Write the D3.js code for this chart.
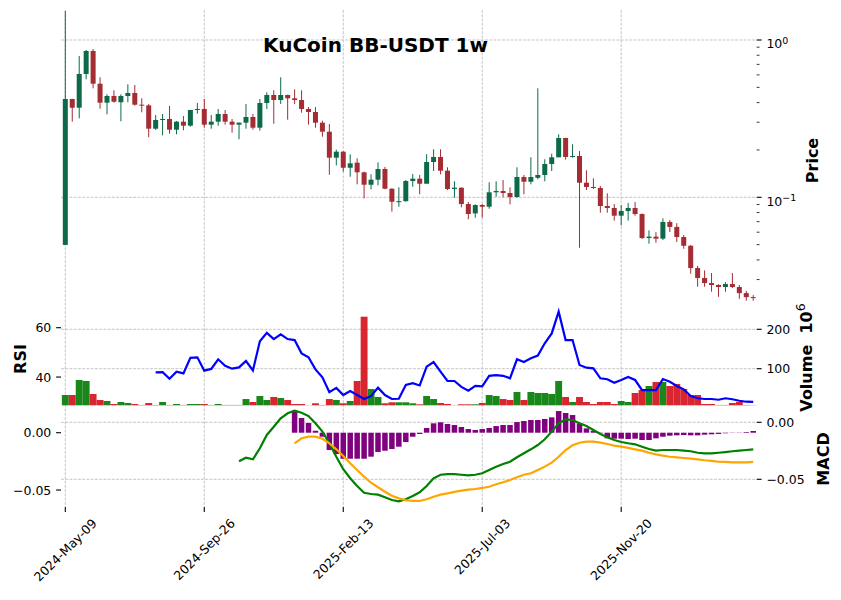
<!DOCTYPE html>
<html>
<head>
<meta charset="utf-8">
<script src="https://cdnjs.cloudflare.com/ajax/libs/d3/7.8.5/d3.min.js"></script>
<style>
  body { margin: 0; background: #fff; }
  svg { font-family: "DejaVu Sans", sans-serif; }
  .grid { stroke: #b8b8b8; stroke-width: 0.8; stroke-dasharray: 2.96,1.28; fill: none; }
  .tick { stroke: #000; }
  .lbl { font-size: 12.5px; fill: #000; }
  .ylab { font-size: 16px; font-weight: bold; fill: #000; }
</style>
</head>
<body>
<svg id="chart" width="841" height="600"></svg>
<script>
// weekly candles, KuCoin BB-USDT, starting 2024-05-09
var open = [.0498,.4217,.3711,.6080,.8513,.5274,.3994,.4406,.4020,.4406,
  .4604,.3879,.3840,.2730,.3101,.3147,.2690,.3025,.2853,.3589,
  .3643,.2895,.3025,.3385,.3025,.2895,.2981,.3240,.2770,.3977,
  .4471,.4155,.4471,.4259,.4155,.3643,.3486,.2981,.2613,.1786,
  .1950,.1541,.1660,.1442,.1202,.1294,.1513,.1134,.0937,.0945,
  .1269,.1313,.1220,.1676,.1805,.1476,.1129,.1151,.0906,.0790,
  .0893,.0871,.1076,.1097,.1065,.1004,.1346,.1256,.1330,.1386,
  .1628,.1796,.2382,.1805,.1831,.1238,.1163,.1146,.0880,.0855,
  .0764,.0818,.0855,.0783,.0551,.0562,.0546,.0697,.0648,.0559,
  .0492,.0355,.0307,.0285,.0277,.0269,.0281,.0269,.0246,.0232];
var high = [1.529,.4230,.7913,.8638,.8766,.5793,.4517,.4789,.4517,.5228,
  .5175,.4259,.3920,.3336,.3385,.3806,.3056,.3288,.3600,.3977,
  .4217,.3336,.3643,.3589,.3147,.2990,.3919,.3385,.4217,.4651,
  .4789,.5793,.4490,.4859,.4789,.3751,.3751,.3069,.2925,.2007,
  .1960,.1877,.1770,.1454,.1400,.1669,.1558,.1140,.1157,.1288,
  .1406,.1386,.1877,.2019,.2019,.1551,.1264,.1155,.0933,.0902,
  .0906,.1245,.1264,.1288,.1157,.1551,.1386,.1796,.4930,.1745,
  .1894,.2516,.2390,.2173,.1970,.1484,.1320,.1180,.1060,.0906,
  .0893,.0920,.0933,.0790,.0617,.0600,.0735,.0718,.0684,.0576,
  .0497,.0366,.0343,.0330,.0280,.0289,.0330,.0277,.0254,.0239];
var low = [.0498,.3025,.3178,.5626,.4930,.3658,.3370,.3994,.3042,.4017,
  .3823,.3470,.2407,.2679,.2478,.2538,.2516,.2667,.2811,.3400,
  .2770,.2730,.2853,.2895,.2575,.2337,.2730,.2690,.2652,.3643,
  .2938,.3919,.3114,.3919,.3450,.2895,.2770,.2428,.1392,.1597,
  .1454,.1352,.1209,.0985,.1124,.1192,.1124,.0810,.0871,.0937,
  .1167,.1045,.1220,.1469,.1400,.1113,.0994,.0863,.0725,.0742,
  .0742,.0846,.1008,.1000,.0902,.0994,.1045,.1209,.1301,.1264,
  .1469,.1796,.1734,.1786,.0478,.1113,.1129,.0798,.0798,.0711,
  .0664,.0711,.0764,.0543,.0507,.0514,.0535,.0602,.0520,.0471,
  .0327,.0270,.0270,.0251,.0233,.0251,.0265,.0226,.0220,.0220];
var close = [.4217,.3711,.6080,.8513,.5274,.3994,.4406,.4053,.4406,.4604,
  .3879,.3840,.2730,.3101,.3147,.2690,.3025,.2853,.3589,.3643,
  .2895,.3025,.3385,.3025,.2895,.2981,.3240,.2770,.3977,.4471,
  .4155,.4471,.4259,.4155,.3643,.3486,.2981,.2613,.1786,.1950,
  .1541,.1644,.1442,.1202,.1294,.1513,.1134,.0937,.0945,.1269,
  .1313,.1220,.1676,.1805,.1476,.1129,.1151,.0906,.0783,.0893,
  .0871,.1076,.1097,.1065,.1004,.1346,.1256,.1346,.1386,.1628,
  .1796,.2382,.1805,.1831,.1238,.1163,.1146,.0880,.0855,.0764,
  .0818,.0855,.0783,.0551,.0562,.0546,.0697,.0648,.0559,.0492,
  .0355,.0307,.0285,.0277,.0269,.0281,.0269,.0246,.0232,.0229];
// volume in millions
var volume = [33.2,33.2,71.3,68.8,35.8,20.6,18,10.4,15.5,12.9,
  10.4,8,12.9,8,15.5,8,10.4,8,10.4,10.4,
  10.4,8,10.4,8,8,8,23,15.5,30.7,20.6,
  28.2,25.6,20.6,10.4,10.4,7.5,12.2,8,23,20.6,
  12.2,18,68.8,232,48.5,28.2,12.2,14.7,14.7,14.7,
  12.2,9.6,30.7,23,12.9,10.4,7.5,9.6,9.6,9.6,
  12.9,33.2,30.7,23,20.6,40.9,20.6,40.9,38.3,38.3,
  35.8,68.8,28.2,15.5,28.2,15.5,10.4,15.5,15.5,10.4,
  18,15.5,38.3,45.9,56.1,66.2,66.2,56.1,61.2,48.5,
  33.2,33.2,10.4,10.4,8,8,12.9,15.5,8,7.5];

var rsiStart = 13;
var rsi = [41.9,42.0,39.3,42.2,41.5,47.8,48.0,42.6,43.3,47.2,
  44.6,43.4,43.9,46.5,42.7,54.5,57.9,55.4,57.3,55.4,
  55.0,49.6,48.0,43.1,39.9,33.9,35.6,32.7,34.3,32.7,
  31.1,32.3,35.7,32.7,31.1,31.2,36.8,37.5,36.6,44.2,
  46.1,42.2,38.4,38.4,36.0,34.5,36.4,36.2,40.5,40.8,
  40.5,39.5,47.2,46.1,47.6,48.7,53.7,57.7,66.5,55.0,
  55.0,44.9,43.8,43.5,39.5,39.1,37.7,38.8,40.0,38.8,
  34.7,34.7,34.7,39.2,38.1,36.4,35.0,32.3,31.4,31.1,
  31.1,30.8,31.4,31.0,30.4,30.0,29.9];

var macdStart = 25;
var macd = [-0.0342,-0.0311,-0.0325,-0.0228,-0.0111,-0.0039,0.0035,0.0079,0.0102,0.0084,
  0.0055,-0.0009,-0.0082,-0.0184,-0.0302,-0.0412,-0.0491,-0.0559,-0.0618,-0.0629,
  -0.0635,-0.0658,-0.0682,-0.0693,-0.0675,-0.0646,-0.0614,-0.0559,-0.0491,-0.0460,
  -0.0454,-0.0454,-0.0460,-0.0465,-0.0460,-0.0447,-0.0418,-0.0389,-0.0366,-0.0346,
  -0.0307,-0.0272,-0.0237,-0.0199,-0.0149,-0.0082,-0.0009,0.0026,0.0020,-0.0009,
  -0.0032,-0.0068,-0.0103,-0.0132,-0.0155,-0.0173,-0.0184,-0.0193,-0.0214,-0.0234,
  -0.0249,-0.0243,-0.0243,-0.0243,-0.0249,-0.0254,-0.0267,-0.0272,-0.0272,-0.0267,
  -0.0261,-0.0254,-0.0249,-0.0243,-0.0237];

var signalStart = 33;
var signal = [-0.0184,-0.0140,-0.0126,-0.0126,-0.0144,-0.0184,-0.0237,-0.0296,-0.0360,-0.0418,
  -0.0477,-0.0530,-0.0570,-0.0609,-0.0644,-0.0667,-0.0684,-0.0690,-0.0690,-0.0675,
  -0.0653,-0.0635,-0.0623,-0.0611,-0.0600,-0.0591,-0.0585,-0.0576,-0.0565,-0.0544,
  -0.0526,-0.0506,-0.0482,-0.0460,-0.0447,-0.0418,-0.0389,-0.0354,-0.0302,-0.0243,
  -0.0202,-0.0179,-0.0170,-0.0170,-0.0179,-0.0190,-0.0205,-0.0214,-0.0225,-0.0237,
  -0.0249,-0.0267,-0.0281,-0.0293,-0.0302,-0.0307,-0.0313,-0.0319,-0.0325,-0.0333,
  -0.0339,-0.0346,-0.0348,-0.0351,-0.0351,-0.0351,-0.0348];

var histStart = 33;
var hist = [0.0192,0.0128,0.0085,0.0017,-0.0035,-0.0151,-0.0186,-0.0227,-0.0227,-0.0227,
  -0.0227,-0.0209,-0.0168,-0.0157,-0.0142,-0.0122,-0.0081,-0.0035,-0.0011,0.0041,
  0.0082,0.0091,0.0076,0.0067,0.0050,0.0032,0.0024,0.0032,0.0041,0.0058,
  0.0067,0.0067,0.0093,0.0102,0.0111,0.0111,0.0120,0.0134,0.0189,0.0172,
  0.0154,0.0082,0.0038,0.0017,-0.0005,-0.0049,-0.0052,-0.0052,-0.0055,-0.0052,
  -0.0064,-0.0064,-0.0049,-0.0035,-0.0026,-0.0023,-0.0020,-0.0023,-0.0023,-0.0017,
  -0.0014,-0.0011,-0.0005,-0.0002,0.0002,0.0006,0.0015];

var tickIdx = [0, 20, 40, 60, 80];
var tickLabels = ["2024-May-09", "2024-Sep-26", "2025-Feb-13", "2025-Jul-03", "2025-Nov-20"];
var priceMajor = [1, 0.1];
var priceMinor = [0.03,0.04,0.05,0.06,0.07,0.08,0.09,0.2,0.3,0.4,0.5,0.6,0.7,0.8,0.9];
var volTicks = [100, 200];
var rsiTicks = [40, 60];
var macdTicks = [0, -0.05];

var upC = "#006340", downC = "#a02128";
var volUp = "#007a00", volDown = "#d50d18";

var svg = d3.select("#chart");
var left = 61, right = 756.7;

var x = d3.scaleLinear().domain([-0.62, 99.5]).range([left, right]);
var yPrice = d3.scaleLog().domain([0.02067, 1.5513]).range([305, 10]);
var yVol = d3.scaleLinear().domain([7.1, 260.4]).range([405.3, 305.5]);
var yRsi = d3.scaleLinear().domain([28.55, 69.0]).range([405.3, 305.5]);
var yMacd = d3.scaleLinear().domain([-0.0743, 0.0143]).range([507, 406]);
var yHist = d3.scaleLinear().domain([-0.0648, 0.0233]).range([507, 406]);

var fmt2 = function (v) { return (v < 0 ? "\u2212" : "") + Math.abs(v).toFixed(2); };

// grid
var grid = svg.append("g");
tickIdx.forEach(function (t) {
  grid.append("line").attr("class", "grid")
    .attr("x1", x(t)).attr("x2", x(t)).attr("y1", 10).attr("y2", 507);
});
function hgrid(y) {
  grid.append("line").attr("class", "grid")
    .attr("x1", left).attr("x2", right).attr("y1", y).attr("y2", y);
}
priceMajor.forEach(function (v) { hgrid(yPrice(v)); });
volTicks.forEach(function (v) { hgrid(yVol(v)); });
macdTicks.forEach(function (v) { hgrid(yMacd(v)); });

// candles
var bw = 5.0;
var cg = svg.append("g");
var cd = cg.selectAll("g").data(d3.range(close.length)).enter().append("g")
  .attr("opacity", 0.95);
cd.append("line")
  .attr("x1", function (i) { return x(i); })
  .attr("x2", function (i) { return x(i); })
  .attr("y1", function (i) { return yPrice(high[i]); })
  .attr("y2", function (i) { return yPrice(low[i]); })
  .attr("stroke", function (i) { return close[i] >= open[i] ? upC : downC; })
  .attr("stroke-width", 1);
cd.append("rect")
  .attr("x", function (i) { return x(i) - bw / 2; })
  .attr("width", bw)
  .attr("y", function (i) { return yPrice(Math.max(open[i], close[i])); })
  .attr("height", function (i) {
    return Math.max(1, yPrice(Math.min(open[i], close[i])) - yPrice(Math.max(open[i], close[i])));
  })
  .attr("fill", function (i) { return close[i] >= open[i] ? upC : downC; });

// volume
var vw = 6.9;
svg.append("g").selectAll("rect").data(d3.range(volume.length)).enter().append("rect")
  .attr("x", function (i) { return x(i) - vw / 2; })
  .attr("width", vw)
  .attr("y", function (i) { return yVol(volume[i]); })
  .attr("height", function (i) { return Math.max(0, yVol.range()[0] - yVol(volume[i])); })
  .attr("fill", function (i) { return close[i] >= open[i] ? volUp : volDown; })
  .attr("opacity", 0.9);

// RSI
svg.append("path")
  .datum(rsi)
  .attr("fill", "none").attr("stroke", "#0000ff").attr("stroke-width", 2.2)
  .attr("d", d3.line()
    .x(function (d, k) { return x(k + rsiStart); })
    .y(function (d) { return yRsi(d); }));

// MACD histogram
var hw = 5.5;
svg.append("g").selectAll("rect").data(hist).enter().append("rect")
  .attr("x", function (d, k) { return x(k + histStart) - hw / 2; })
  .attr("width", hw)
  .attr("y", function (d) { return Math.min(yHist(d), yHist(0)); })
  .attr("height", function (d) { return Math.abs(yHist(d) - yHist(0)); })
  .attr("fill", "#800080");

svg.append("path")
  .datum(macd)
  .attr("fill", "none").attr("stroke", "#008000").attr("stroke-width", 2.2)
  .attr("d", d3.line()
    .x(function (d, k) { return x(k + macdStart); })
    .y(function (d) { return yMacd(d); }));
svg.append("path")
  .datum(signal)
  .attr("fill", "none").attr("stroke", "#ffa500").attr("stroke-width", 2.2)
  .attr("d", d3.line()
    .x(function (d, k) { return x(k + signalStart); })
    .y(function (d) { return yMacd(d); }));

// axes
var ax = svg.append("g");
function rtick(y, len, w) {
  ax.append("line").attr("class", "tick").attr("stroke-width", w)
    .attr("x1", right).attr("x2", right + len).attr("y1", y).attr("y2", y);
}
function ltick(y) {
  ax.append("line").attr("class", "tick").attr("stroke-width", 1.1)
    .attr("x1", left).attr("x2", left - 4.9).attr("y1", y).attr("y2", y);
}
function rlabel(y, s) {
  ax.append("text").attr("class", "lbl").attr("x", right + 9.7).attr("y", y)
    .attr("dominant-baseline", "central").text(s);
}
function llabel(y, s) {
  ax.append("text").attr("class", "lbl").attr("x", left - 9.7).attr("y", y)
    .attr("text-anchor", "end").attr("dominant-baseline", "central").text(s);
}

priceMinor.forEach(function (v) { rtick(yPrice(v), 2.8, 0.8); });
priceMajor.forEach(function (v) {
  var y = yPrice(v);
  rtick(y, 4.9, 1.1);
  var t = ax.append("text").attr("class", "lbl").attr("x", right + 9.7).attr("y", y + 8.3);
  t.append("tspan").text("10");
  t.append("tspan").attr("dy", -4.3).attr("font-size", "9.5px")
    .text(v === 1 ? "0" : "\u22121");
});
volTicks.forEach(function (v) { rtick(yVol(v), 4.9, 1.1); rlabel(yVol(v), String(v)); });
macdTicks.forEach(function (v) { rtick(yMacd(v), 4.9, 1.1); rlabel(yMacd(v), fmt2(v)); });
rsiTicks.forEach(function (v) { ltick(yRsi(v)); llabel(yRsi(v), String(v)); });
macdTicks.forEach(function (v) { ltick(yHist(v)); llabel(yHist(v), fmt2(v)); });

// x ticks and rotated labels
tickIdx.forEach(function (t, k) {
  ax.append("line").attr("class", "tick").attr("stroke-width", 1.1)
    .attr("x1", x(t)).attr("x2", x(t)).attr("y1", 507).attr("y2", 511.9);
  var txt = ax.append("text").attr("class", "lbl")
    .attr("text-anchor", "middle").attr("dominant-baseline", "central")
    .text(tickLabels[k]);
  var L = txt.node().getComputedTextLength();
  var half = (L + 12) / (2 * Math.SQRT2);
  txt.attr("transform", "translate(" + x(t) + "," + (516.7 + half) + ") rotate(-45)");
});

// axis titles
function ylab(cx, cy, s) {
  return svg.append("text").attr("class", "ylab")
    .attr("transform", "translate(" + cx + "," + cy + ") rotate(-90)")
    .attr("text-anchor", "middle").attr("dominant-baseline", "central").text(s);
}
ylab(812.5, 160.5, "Price");
var vl = svg.append("text").attr("class", "ylab")
  .attr("transform", "translate(806,357.5) rotate(-90)")
  .attr("text-anchor", "middle").attr("dominant-baseline", "central");
vl.append("tspan").text("Volume\u00a0\u00a010");
vl.append("tspan").attr("dy", -6).attr("font-size", "12.5px").attr("font-weight", "normal").text("6");
ylab(823.5, 459, "MACD");
ylab(20, 359, "RSI");

// title
svg.append("text")
  .attr("x", 375.5).attr("y", 52.3)
  .attr("text-anchor", "middle")
  .attr("font-size", "20px").attr("font-weight", "bold")
  .text("KuCoin BB-USDT 1w");
</script>
</body>
</html>
